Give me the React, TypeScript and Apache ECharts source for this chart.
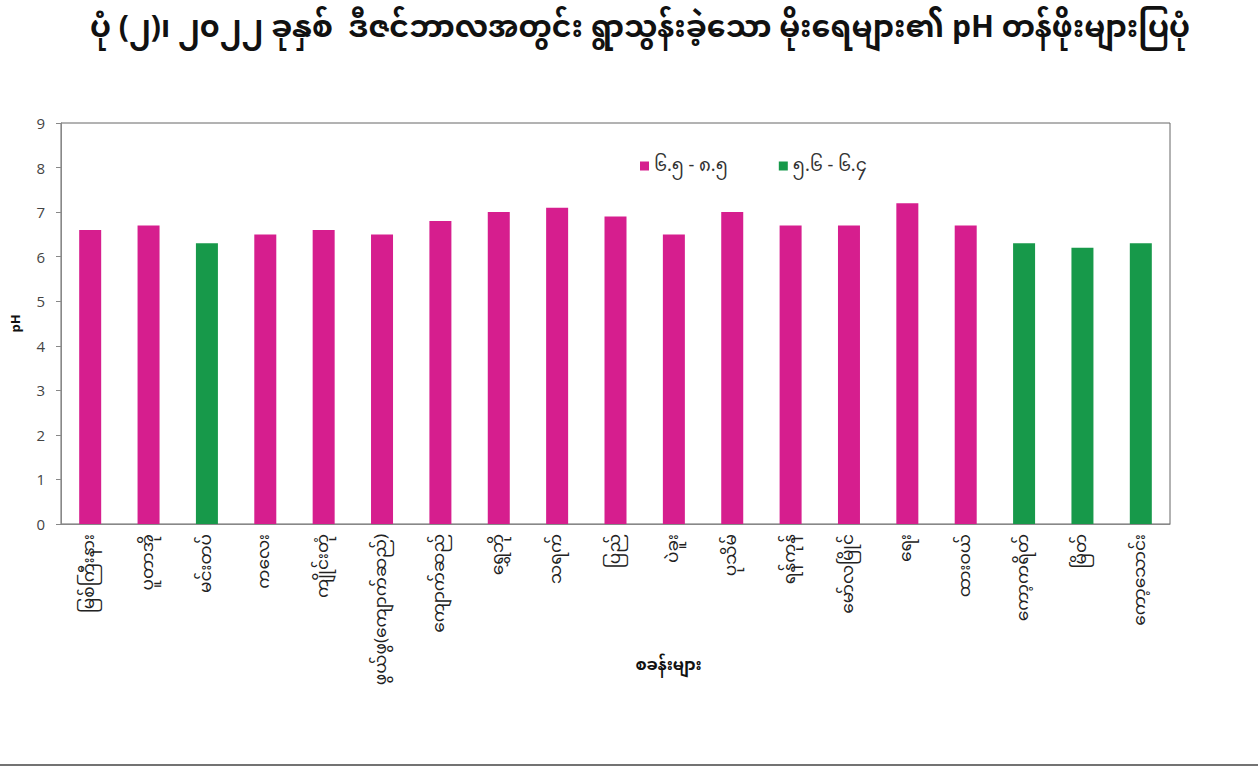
import React, { useEffect, useRef } from "react";
import * as echarts from "echarts";

const titleText = "ပုံ (၂)၊ ၂၀၂၂ ခုနှစ်  ဒီဇင်ဘာလအတွင်း ရွာသွန်းခဲ့သော မိုးရေများ၏ pH တန်ဖိုးများပြပုံ";
const stations = [
  "မြစ်ကြီးနား",
  "ပူတာအို",
  "မင်းတပ်",
  "ကလေး",
  "ကျိုင်းတုံ",
  "ဖွယ်ဖွ(ကျောက်ဆည်)",
  "ကျောက်ဆည်",
  "ရွှေဘို",
  "သရက်",
  "ပြည်",
  "ပဲခူး",
  "ပုသိမ်",
  "ရန်ကုန်",
  "မော်လမြိုင်",
  "ရေး",
  "ထားဝယ်",
  "ကော့ကရိတ်",
  "မြိတ်",
  "ကော့သောင်း",
];
const legendHigh = "၆.၅ - ၈.၅";
const legendLow = "၅.၆ - ၆.၄";
const highValues = [6.6, 6.7, null, 6.5, 6.6, 6.5, 6.8, 7.0, 7.1, 6.9, 6.5, 7.0, 6.7, 6.7, 7.2, 6.7, null, null, null];
const lowValues = [null, null, 6.3, null, null, null, null, null, null, null, null, null, null, null, null, null, 6.3, 6.2, 6.3];
const yAxisName = "pH";
const xAxisName = "စခန်းများ";

const myFont = "'Noto Sans Myanmar', Padauk, 'Myanmar Text', 'Noto Sans', 'DejaVu Sans', sans-serif";

export default function App() {
  const ref = useRef<HTMLDivElement>(null);
  useEffect(() => {
    if (!ref.current) return;
    const chart = echarts.init(ref.current, undefined, { renderer: "svg" });
    chart.setOption({
      animation: false,
      backgroundColor: "#ffffff",
      title: {
        text: titleText,
        left: 640,
        textAlign: "center",
        top: 6,
        padding: 0,
        textStyle: { fontFamily: myFont, fontSize: 30, lineHeight: 48, fontWeight: "bold", color: "#111" },
      },
      legend: {
        top: 152,
        left: 635,
        icon: "rect",
        itemWidth: 9,
        itemHeight: 9,
        itemGap: 51,
        textStyle: { fontFamily: myFont, fontSize: 18, color: "#333" },
        data: [legendHigh, legendLow],
      },
      grid: {
        left: 61,
        right: 88,
        top: 123,
        bottom: 245,
        containLabel: false,
        show: true,
        borderColor: "#666",
        borderWidth: 1,
      },
      xAxis: {
        type: "category",
        data: stations,
        name: xAxisName,
        nameLocation: "middle",
        nameGap: 134,
        nameMoveOverlap: false,
        nameTextStyle: {
          fontFamily: myFont,
          fontSize: 16,
          fontWeight: "bold",
          color: "#111",
          padding: [0, 0, 0, 106],
        },
        axisLine: { show: true, lineStyle: { color: "#888" } },
        axisTick: { show: false },
        axisLabel: {
          rotate: 90,
          interval: 0,
          margin: 10,
          fontFamily: myFont,
          fontSize: 17,
          color: "#222",
        },
      },
      yAxis: {
        type: "value",
        min: 0,
        max: 9,
        interval: 1,
        name: yAxisName,
        nameLocation: "middle",
        nameGap: 40,
        nameRotate: 90,
        nameTextStyle: { fontFamily: "'Open Sans', sans-serif", fontSize: 13, fontWeight: "bold", color: "#111" },
        axisLine: { show: true, lineStyle: { color: "#888" } },
        axisTick: { show: true, inside: false, length: 5, lineStyle: { color: "#888" } },
        splitLine: { show: false },
        axisLabel: { fontFamily: "'Open Sans', sans-serif", fontSize: 15, color: "#444", margin: 16 },
      },
      series: [
        {
          name: legendHigh,
          type: "bar",
          data: highValues,
          barWidth: 22,
          barGap: "-100%",
          itemStyle: { color: "#D61E8E" },
        },
        {
          name: legendLow,
          type: "bar",
          data: lowValues,
          barWidth: 22,
          barGap: "-100%",
          itemStyle: { color: "#17994A" },
        },
      ],
      graphic: [
        {
          type: "line",
          shape: { x1: 0, y1: 765, x2: 1258, y2: 765 },
          style: { stroke: "#444", lineWidth: 1.5 },
        },
      ],
    });
    return () => chart.dispose();
  }, []);
  return <div ref={ref} style={{ width: 1258, height: 769, position: "absolute", left: 0, top: 0 }} />;
}
